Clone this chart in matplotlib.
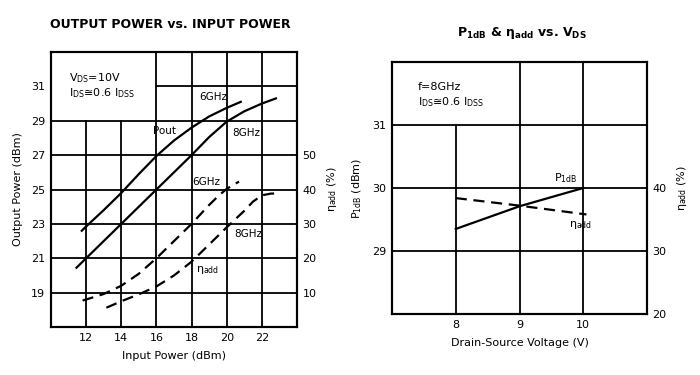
import matplotlib
matplotlib.use('Agg')
import matplotlib.pyplot as plt
import numpy as np

plt.rcParams['font.family'] = ['DejaVu Sans']
plt.rcParams['mathtext.default'] = 'regular'

# Left chart: output power / efficiency vs input power
pin_6g = [11.75, 12, 13, 14, 15, 16, 17, 18, 19, 20, 20.8]
pout_6g = [22.6, 22.85, 23.8, 24.8, 25.9, 26.95, 27.85, 28.6, 29.25, 29.75, 30.1]
pin_8g = [11.45, 12, 13, 14, 15, 16, 17, 18, 19, 20, 21, 22, 22.8]
pout_8g = [20.45, 21, 22, 23, 24, 25, 26, 27, 28.05, 28.95, 29.55, 30.0, 30.3]
pin_eta_6g = [11.8, 12, 13, 14, 15, 16, 17, 18, 19, 19.5, 20, 20.7]
eta_6g = [7.7, 8, 9.6, 12, 15.5, 20, 25, 30, 35.5, 38, 40.2, 42.3]
pin_eta_8g = [13.15, 14, 15, 16, 17, 18, 19, 20, 21, 21.5, 22, 22.5, 23]
eta_8g = [5.6, 7.5, 9.5, 11.8, 15, 19, 24, 29, 33.8, 36.5, 38.3, 38.8, 38.9]

left_xticks = [12, 14, 16, 18, 20, 22]
left_yticks = [19, 21, 23, 25, 27, 29, 31]
left_eta_ticks = [10, 20, 30, 40, 50]

# Right chart: P1dB / efficiency vs drain-source voltage
vds = [8, 9, 10]
p1db = [29.35, 29.71, 30.0]
vds_eta = [8, 9, 10.05]
eta_vds = [38.4, 37.2, 35.8]

right_xticks = [8, 9, 10]
right_yticks = [29, 30, 31]
right_eta_ticks = [20, 30, 40]

fig = plt.figure(figsize=(7, 3.75), dpi=100)

lw_grid = 1.3
lw_line = 1.6
dash = (0, (5, 3))
fs = 8


def style(ax):
    for s in ax.spines.values():
        s.set_linewidth(1.5)
    ax.tick_params(length=0, labelsize=fs, pad=4)


# ---- left
ax = fig.add_axes([51 / 700, 1 - 327 / 375, 246 / 700, 275 / 375])
ax.set_xlim(10, 24)
ax.set_ylim(17, 33)
ax.set_xticks(left_xticks)
ax.set_yticks(left_yticks)
style(ax)
# grid (top-left corner kept clear for the text block)
for x in left_xticks:
    top = 29 if x < 16 else 33
    ax.plot([x, x], [17, top], color='black', lw=lw_grid, zorder=1)
for y in left_yticks:
    start = 16 if y == 31 else 10
    ax.plot([start, 24], [y, y], color='black', lw=lw_grid, zorder=1)

ax.plot(pin_6g, pout_6g, color='black', lw=lw_line, solid_joinstyle='round')
ax.plot(pin_8g, pout_8g, color='black', lw=lw_line, solid_joinstyle='round')

ax2 = ax.twinx()
ax2.set_ylim(0, 80)
ax2.set_yticks(left_eta_ticks)
style(ax2)
ax2.plot(pin_eta_6g, eta_6g, color='black', lw=lw_line, linestyle=dash)
ax2.plot(pin_eta_8g, eta_8g, color='black', lw=lw_line, linestyle=dash)

ax.text(11.0, 31.5, r'V$_{DS}$=10V', fontsize=fs, va='center')
ax.text(11.0, 30.6, r'I$_{DS}$≅0.6 I$_{DSS}$', fontsize=fs, va='center')
ax.text(19.26, 30.4, '6GHz', fontsize=7.5, ha='center', va='center')
ax.text(16.46, 28.4, 'Pout', fontsize=7.5, ha='center', va='center')
ax.text(21.1, 28.3, '8GHz', fontsize=7.5, ha='center', va='center')
ax.text(18.85, 25.45, '6GHz', fontsize=7.5, ha='center', va='center')
ax.text(21.2, 22.4, '8GHz', fontsize=7.5, ha='center', va='center')
ax.text(18.9, 20.3, r'$\eta_{add}$', fontsize=8, ha='center', va='center')

ax.set_xlabel('Input Power (dBm)', fontsize=fs, labelpad=6)
ax.set_ylabel('Output Power (dBm)', fontsize=fs, labelpad=6)
ax2.set_ylabel(r'$\eta_{add}$ (%)', fontsize=fs, labelpad=6)
fig.text(170 / 700, 1 - 24 / 375, 'OUTPUT POWER vs. INPUT POWER',
         fontsize=9, fontweight='bold', ha='center', va='center')

# ---- right
bx = fig.add_axes([392 / 700, 1 - 314 / 375, 255 / 700, 252 / 375])
bx.set_xlim(7, 11)
bx.set_ylim(28, 32)
bx.set_xticks(right_xticks)
bx.set_yticks(right_yticks)
style(bx)
for x in right_xticks:
    top = 31 if x == 8 else 32
    bx.plot([x, x], [28, top], color='black', lw=lw_grid, zorder=1)
for y in right_yticks:
    bx.plot([7, 11], [y, y], color='black', lw=lw_grid, zorder=1)

bx.plot(vds, p1db, color='black', lw=lw_line, solid_joinstyle='round')

bx2 = bx.twinx()
bx2.set_ylim(20, 60)
bx2.set_yticks(right_eta_ticks)
style(bx2)
bx2.plot(vds_eta, eta_vds, color='black', lw=lw_line, linestyle=dash)

bx.text(7.4, 31.6, 'f=8GHz', fontsize=fs, va='center')
bx.text(7.4, 31.37, r'I$_{DS}$≅0.6 I$_{DSS}$', fontsize=fs, va='center')
bx.text(9.73, 30.15, r'P$_{1dB}$', fontsize=8, ha='center', va='center')
bx.text(9.95, 29.42, r'$\eta_{add}$', fontsize=8, ha='center', va='center')

bx.set_xlabel('Drain-Source Voltage (V)', fontsize=fs, labelpad=6)
bx.set_ylabel(r'P$_{1dB}$ (dBm)', fontsize=fs, labelpad=6)
bx2.set_ylabel(r'$\eta_{add}$ (%)', fontsize=fs, labelpad=6)
fig.text(522 / 700, 1 - 33 / 375, r'P$_{1dB}$ & $\eta_{add}$ vs. V$_{DS}$',
         fontsize=9, fontweight='bold', ha='center', va='center')

fig.savefig('out.png', dpi=100)
